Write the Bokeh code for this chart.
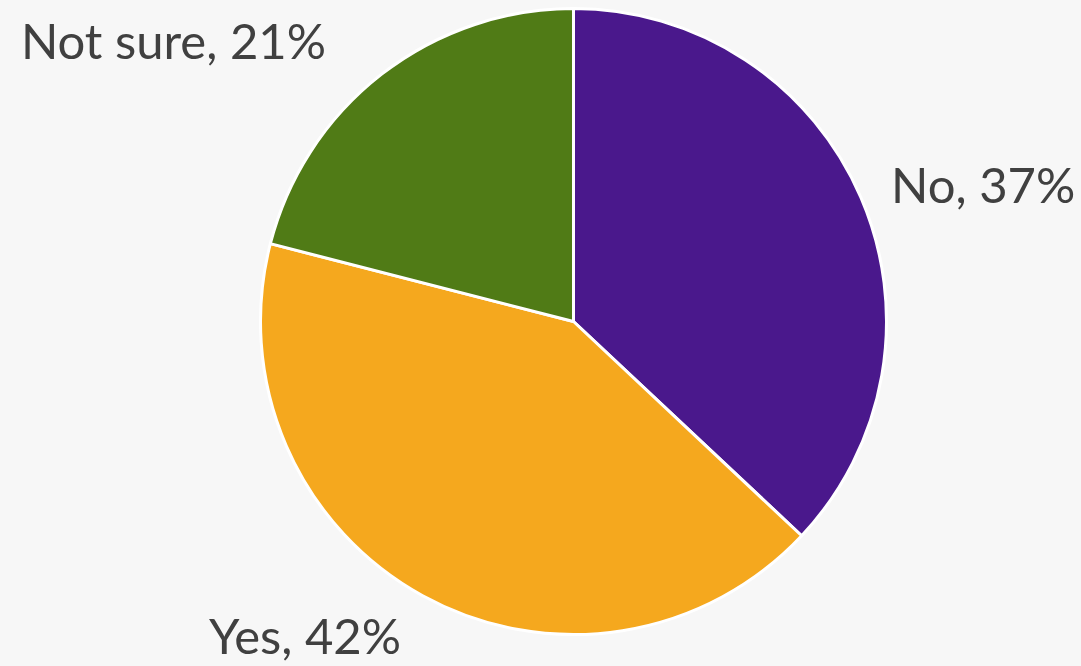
import math
from bokeh.plotting import figure
from bokeh.models import ColumnDataSource, Range1d
from bokeh.embed import file_html
from bokeh.resources import INLINE
from bokeh.core.properties import value

categories = ["No", "Yes", "Not sure"]
shares = [37, 42, 21]
colors = ["#4A188C", "#F5A81E", "#507B16"]

# label placement styles (gap beyond the rim in px, angular nudge in degrees)
label_gap = [33, 45, 62]
label_nudge = [0, 0, 3.5]

W, H = 1081, 666
cx, cy, R = 573, 345, 313

starts, ends, lx, ly, align, labels = [], [], [], [], [], []
a = 90.0
for cat, s, g, n in zip(categories, shares, label_gap, label_nudge):
    sweep = s / 100 * 360
    start = a - sweep
    starts.append(math.radians(start))
    ends.append(math.radians(a))
    mid = math.radians(a - sweep / 2 + n)
    r = R + g
    x = cx + r * math.cos(mid)
    y = cy + r * math.sin(mid)
    lx.append(x)
    ly.append(y)
    align.append("left" if x > cx else "right")
    labels.append(f"{cat}, {s}%")
    a = start

src = ColumnDataSource(dict(start=starts, end=ends, color=colors))
lsrc = ColumnDataSource(dict(x=lx, y=ly, text=labels, align=align))

p = figure(width=W, height=H, output_backend="svg", toolbar_location=None,
           x_range=Range1d(0, W), y_range=Range1d(0, H), min_border=0)
p.axis.visible = False
p.grid.visible = False
p.outline_line_color = None
p.background_fill_color = "#F7F7F7"
p.border_fill_color = "#F7F7F7"

p.wedge(x=cx, y=cy, radius=R, start_angle="start", end_angle="end",
        fill_color="color", line_color="white", line_width=3, source=src)
p.text(x="x", y="y", text="text", text_align="align", text_baseline="middle",
       text_font=value("Lato"), text_font_size="49px", text_color="#404040",
       source=lsrc)

html = file_html(p, INLINE)
html = html.replace("<body>", "<body style=\"background:#F7F7F7;margin:0;overflow:hidden\">")
open("out.html", "w").write(html)
